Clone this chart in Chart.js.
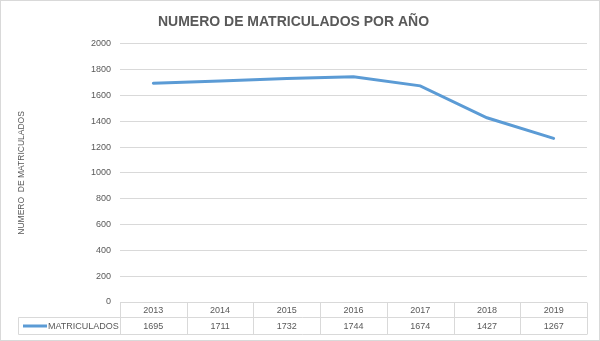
<!DOCTYPE html>
<html>
<head>
<meta charset="utf-8">
<script src="https://cdn.jsdelivr.net/npm/chart.js@4"></script>
<style>
  body { margin: 0; background: #fff; }
  canvas { display: block; }
</style>
</head>
<body>
<canvas id="line-chart" width="600" height="341"></canvas>
<script>
// data
const years = ["2013", "2014", "2015", "2016", "2017", "2018", "2019"];
const matriculados = [1695, 1711, 1732, 1744, 1674, 1427, 1267];
const seriesName = "MATRICULADOS";
const yTicks = [0, 200, 400, 600, 800, 1000, 1200, 1400, 1600, 1800, 2000];

const textColor = "#595959";
const lineColor = "#5B9BD5";
const gridColor = "#d9d9d9";
const fontFam = "'Liberation Sans', Arial, sans-serif";

// draws the excel style data table under the plot
const dataTable = {
    id: "dataTable",
    beforeDraw(chart) {
        const ctx = chart.ctx;
        ctx.save();
        ctx.fillStyle = "#fff";
        ctx.fillRect(0, 0, chart.width, chart.height);
        ctx.strokeStyle = gridColor;
        ctx.lineWidth = 1;
        ctx.strokeRect(0.5, 0.5, chart.width - 1, chart.height - 1);
        ctx.restore();
    },
    afterDraw(chart) {
        const ctx = chart.ctx;
        const area = chart.chartArea;
        const x = chart.scales.x;
        const colW = (area.right - area.left) / years.length;
        const top = Math.round(area.bottom) + 0.5;
        const mid = top + 15;
        const bot = mid + 17;
        const legLeft = 18.5;

        ctx.save();
        ctx.strokeStyle = gridColor;
        ctx.lineWidth = 1;
        ctx.beginPath();
        ctx.moveTo(area.left, top); ctx.lineTo(area.right, top);
        ctx.moveTo(legLeft, mid); ctx.lineTo(area.right, mid);
        ctx.moveTo(legLeft, bot); ctx.lineTo(area.right, bot);
        ctx.moveTo(legLeft, mid); ctx.lineTo(legLeft, bot);
        for (let i = 0; i <= years.length; i++) {
            const px = Math.round(area.left + i * colW) + 0.5;
            ctx.moveTo(px, top); ctx.lineTo(px, bot);
        }
        ctx.stroke();

        ctx.fillStyle = textColor;
        ctx.font = "9px " + fontFam;
        ctx.textAlign = "center";
        ctx.textBaseline = "middle";
        for (let i = 0; i < years.length; i++) {
            const cx = x.getPixelForValue(i);
            ctx.fillText(years[i], cx, (top + mid) / 2 + 1);
            ctx.fillText(String(matriculados[i]), cx, (mid + bot) / 2 + 1);
        }

        // legend key + series name
        ctx.strokeStyle = lineColor;
        ctx.lineWidth = 3;
        ctx.beginPath();
        ctx.moveTo(23, (mid + bot) / 2);
        ctx.lineTo(47, (mid + bot) / 2);
        ctx.stroke();
        ctx.textAlign = "left";
        ctx.fillText(seriesName, 48, (mid + bot) / 2 + 1);
        ctx.restore();
    }
};

new Chart(document.getElementById("line-chart"), {
    type: "line",
    data: {
        labels: years,
        datasets: [
            {
                label: seriesName,
                data: matriculados,
                borderColor: lineColor,
                borderWidth: 3,
                borderCapStyle: "round",
                pointRadius: 0,
                tension: 0,
                fill: false
            }
        ]
    },
    options: {
        responsive: false,
        animation: false,
        layout: { padding: { top: 0, right: 13, bottom: 39, left: 0 } },
        plugins: {
            legend: { display: false },
            tooltip: { enabled: false },
            title: {
                display: true,
                text: "NUMERO DE MATRICULADOS POR AÑO",
                color: textColor,
                font: { family: fontFam, size: 14, weight: "bold" },
                padding: { top: 14, bottom: 13 }
            }
        },
        scales: {
            x: {
                display: false,
                offset: true
            },
            y: {
                min: 0,
                max: 2000,
                afterBuildTicks: (scale) => { scale.ticks = yTicks.map(v => ({ value: v })); },
                afterFit: (scale) => { scale.width = 120; },
                ticks: {
                    color: textColor,
                    font: { family: fontFam, size: 9 },
                    padding: 9,
                    callback: (v) => String(v)
                },
                grid: { color: gridColor, drawTicks: false },
                border: { display: false },
                title: {
                    display: true,
                    text: "NUMERO  DE MATRICULADOS",
                    color: textColor,
                    font: { family: fontFam, size: 8.5 },
                    padding: { top: 17, bottom: 0 }
                }
            }
        }
    },
    plugins: [dataTable]
});
</script>
</body>
</html>
